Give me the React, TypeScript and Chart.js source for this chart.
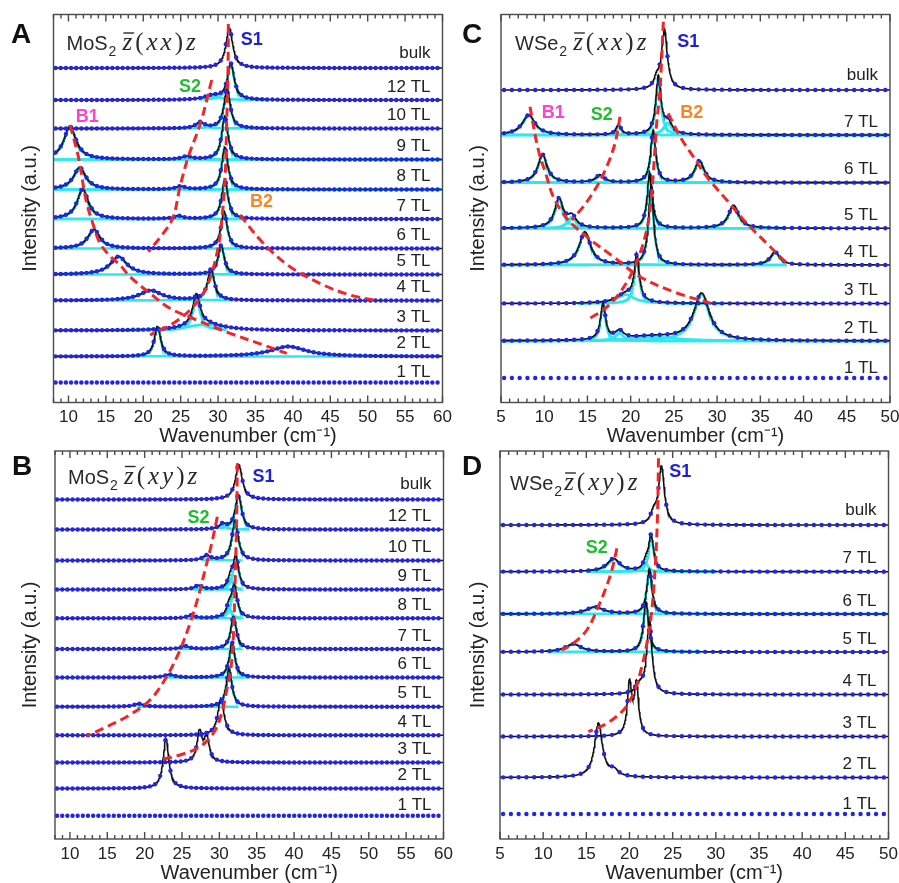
import React, { useEffect, useRef } from 'react';
import { Chart, registerables } from 'chart.js';
Chart.register(...registerables);

const FONT = "'Liberation Sans', Arial, Helvetica, sans-serif";
const SERIF = "'Liberation Serif', 'Times New Roman', serif";

// ================= Panel A : MoS2 z(xx)z =================
const A_layers = ['bulk', '12 TL', '10 TL', '9 TL', '8 TL', '7 TL', '6 TL', '5 TL', '4 TL', '3 TL', '2 TL', '1 TL'];
const A_offsets = [334.5, 302.5, 274, 243, 213, 183.5, 154, 128, 102, 72, 46, 20];
// each peak: [centre (cm-1), height (a.u.), FWHM (cm-1)]
const A_peaks: number[][][] = [
  [[31.5, 40, 1.1]],
  [[31.7, 36, 1.1], [29.2, 4, 2.5]],
  [[31.2, 40, 1.0], [27.6, 6, 1.4]],
  [[10.2, 33, 2.0], [30.9, 43, 1.0], [25.8, 3, 1.5]],
  [[11.5, 22, 2.0], [30.9, 42, 1.0], [25.0, 3, 1.5]],
  [[11.9, 30, 1.8], [30.9, 39, 1.0], [24.7, 3, 1.5]],
  [[13.4, 19, 2.0], [30.8, 37, 1.0]],
  [[16.7, 18, 2.7], [30.4, 29, 1.0]],
  [[21.0, 10, 3.6], [29.05, 31, 1.1]],
  [[27.1, 32, 1.2], [28.3, 6, 6.0]],
  [[21.9, 30, 1.0], [39.4, 10, 5.8]],
  [],
];
const A_compRange: (number[] | null)[] = [null, [27.5, 36.5], [8, 36.5], [8, 60], [8, 60], [8, 33.5], [8, 33.5], [8, 33.5], [8, 32], [8, 31], [8, 60], null];
const A_ticks = [10, 15, 20, 25, 30, 35, 40, 45, 50, 55, 60];
const A_guideS1 = [[31.37, 378.5], [31.33, 334.5], [31.13, 274.5], [30.93, 222.5], [30.49, 182.5], [30.03, 155.8], [29.15, 129.2], [28.03, 109.2], [26.25, 92.5], [24.02, 79.2], [20.9, 67.5]];
const A_guideS2 = [[29.15, 322.5], [27.65, 279.2], [26.02, 245.8], [24.91, 215.8], [24.02, 185.8], [22.68, 169.2], [20.67, 150.8]];
const A_guideB1 = [[10.21, 277.5], [11.32, 245.8], [12.34, 202.5], [13.32, 177.5], [14.22, 159.2], [15.55, 146.5], [16.89, 137.5], [18.23, 125.8], [20.9, 109.2], [23.57, 94.2], [27.14, 82.5], [31.6, 69.2], [36.05, 57.5], [39.18, 49.2]];
const A_guideB2 = [[32.93, 187.5], [36.05, 159.2], [39.62, 135.8], [44.07, 117.5], [47.64, 107.5], [51.21, 101.8]];
const A_modes: [string, number, number][] = [['S1', 34.5, 362.5], ['S2', 26.25, 315.2], ['B1', 12.5, 285.8], ['B2', 35.8, 200.8]];

// ================= Panel B : MoS2 z(xy)z =================
const B_layers = ['bulk', '12 TL', '10 TL', '9 TL', '8 TL', '7 TL', '6 TL', '5 TL', '4 TL', '3 TL', '2 TL', '1 TL'];
const B_offsets = [339.5, 309.5, 278.5, 249.5, 220.7, 190, 161.5, 132.3, 103.7, 76.5, 50.5, 23.3];
const B_peaks: number[][][] = [
  [[32.6, 35, 1.1]],
  [[32.55, 35, 1.0], [30.45, 5, 1.0]],
  [[32.1, 40, 1.0], [28.3, 5, 1.2]],
  [[32.2, 32, 0.9], [31.5, 10, 0.8], [27.2, 4, 1.2]],
  [[32.0, 32, 0.9], [31.3, 10, 0.8], [26.2, 3, 1.2]],
  [[31.9, 33, 0.9], [25.4, 3, 1.2]],
  [[31.7, 35, 0.9], [23.3, 3, 1.5]],
  [[31.3, 38, 0.9], [19.2, 3, 1.5]],
  [[30.2, 37, 1.0]],
  [[27.35, 30, 0.8], [28.3, 25, 0.8]],
  [[22.85, 50, 0.9]],
  [],
];
const B_compRange: (number[] | null)[] = [null, [30, 34], [27.5, 33], [26.5, 33], [25.5, 33], [24.3, 33], [22.5, 34], [19, 32.5], null, null, null, null];
const B_ticks = [10, 15, 20, 25, 30, 35, 40, 45, 50, 55, 60];
const B_guideS1 = [[32.4, 375.7], [32.32, 322.3], [32.1, 255.7], [31.87, 202.3], [31.52, 169], [30.99, 149], [30.32, 125.7], [29.19, 105.7], [27.41, 92.3], [24.73, 84], [21.83, 79]];
const B_guideS2 = [[29.73, 322.3], [28.98, 295.7], [28.08, 269], [27.18, 242.3], [26.07, 215.7], [24.73, 189], [22.95, 162.3], [20.72, 139], [17.6, 122.3], [14.47, 110.7], [12.24, 103]];
const B_modes: [string, number, number][] = [['S1', 35.9, 362.3], ['S2', 27.2, 320.7]];

// ================= Panel C : WSe2 z(xx)z =================
const C_layers = ['bulk', '7 TL', '6 TL', '5 TL', '4 TL', '3 TL', '2 TL', '1 TL'];
const C_offsets = [312.5, 267.5, 219.8, 174.2, 137.5, 99, 61.5, 24.5];
const C_peaks: number[][][] = [
  [[23.9, 60, 0.8], [23.0, 9, 0.7]],
  [[8.2, 20, 1.8], [18.6, 10, 0.7], [23.2, 57, 0.7], [24.3, 12, 1.2]],
  [[9.8, 28, 1.3], [16.45, 7.5, 1.2], [22.6, 52, 0.7], [27.95, 22, 1.3]],
  [[11.7, 29, 1.2], [13.2, 11, 1.2], [22.2, 55, 0.7], [31.9, 23, 1.4]],
  [[14.7, 33, 1.6], [22.35, 80, 0.7], [36.7, 13, 1.3]],
  [[20.7, 45, 0.7], [19.4, 9, 2.5]],
  [[16.8, 36, 0.7], [18.7, 8, 1.2], [22.5, 4, 7], [28.2, 47, 2.2]],
  [],
];
const C_compRange: (number[] | null)[] = [null, [5, 50], [5, 50], [5, 37.6], [5, 38], [13.8, 30.7], [5, 50], null];
const C_ticks = [5, 10, 15, 20, 25, 30, 35, 40, 45, 50];
const C_guideS1 = [[23.78, 380.8], [23.39, 312.5], [23.01, 279.2], [22.62, 229.2], [22.24, 192.5], [21.86, 172.5], [21.08, 149.2], [19.92, 125.8], [18.38, 105.8], [16.83, 92.5], [14.91, 82.5]];
const C_guideB1 = [[8.35, 295.8], [9.32, 252.5], [10.29, 225.8], [11.05, 205.8], [12.6, 184.2], [14.91, 165.8], [17.99, 145.8], [21.08, 125.8], [24.93, 110.8], [29.95, 97.5]];
const C_guideS2 = [[18.77, 285.8], [18.19, 259.2], [17.23, 235.8], [16.07, 215.8], [14.52, 195.8], [13.18, 182.5]];
const C_guideB2 = [[24.35, 289.2], [25.71, 265.8], [27.25, 245.8], [28.8, 225.8], [31.11, 202.5], [33.42, 179.2], [35.74, 159.2], [38.05, 139.2]];
const C_modes: [string, number, number][] = [['S1', 26.67, 360.8], ['B1', 11.05, 289.2], ['S2', 16.65, 287.5], ['B2', 27.06, 289.2]];

// ================= Panel D : WSe2 z(xy)z =================
const D_layers = ['bulk', '7 TL', '6 TL', '5 TL', '4 TL', '3 TL', '2 TL', '1 TL'];
const D_offsets = [314, 267.3, 225, 187, 144.5, 102.5, 61.5, 25];
const D_peaks: number[][][] = [
  [[23.7, 58, 0.8], [22.8, 10, 0.8]],
  [[18.15, 13, 1.8], [21.9, 8, 0.7], [22.5, 35, 0.7]],
  [[16.0, 7, 2.4], [22.3, 45, 0.7]],
  [[13.5, 8, 2.2], [21.9, 50, 0.7]],
  [[21.2, 8, 1.0], [22.3, 75, 0.7]],
  [[20.0, 52, 0.6], [20.8, 50, 0.6]],
  [[16.4, 54, 1.1], [18.2, 6, 1.2]],
  [],
];
const D_compRange: (number[] | null)[] = [null, [15, 30], [5, 50], [10.4, 28.2], null, null, null, null];
const D_ticks = [5, 10, 15, 20, 25, 30, 35, 40, 45, 50];
const D_guideS1 = [[23.36, 380.7], [23.24, 322.3], [22.98, 272.3], [22.59, 229], [22.08, 199], [21.43, 172.3], [20.46, 145.7], [19.3, 129], [17.38, 115.7], [15.24, 107.3]];
const D_guideS2 = [[18.54, 290.7], [17.96, 269], [17.18, 249], [16.22, 229], [15.06, 209], [13.5, 195.7], [12.16, 189]];
const D_modes: [string, number, number][] = [['S1', 25.88, 367.3], ['S2', 16.2, 290.7]];

// ================= styling / layout =================
const MODE_COLORS: Record<string, string> = { S1: '#1f1fdc', S2: '#1fbe2c', B1: '#ff40d0', B2: '#ff8420' };
const CYAN = '#2ee8f0';
const DOT = '#2424e6';
const RED = '#f52525';
const FINE = 0.05;

interface Panel {
  key: string; letter: string; compound: string; pol: string;
  xMin: number; xMax: number; ticks: number[];
  layers: string[]; offsets: number[]; peaks: number[][][]; compRange: (number[] | null)[];
  guides: number[][][]; modes: [string, number, number][]; dotStep: number;
  box: { left: number; top: number; width: number; height: number };
  area: { l: number; t: number; r: number; b: number };
  padLeft: number;
  title: { x: number; y: number; gap: number };
  letterPos: { x: number; y: number };
}

const PANELS: Panel[] = [
  {
    key: 'A', letter: 'A', compound: 'MoS', pol: 'xx', xMin: 8, xMax: 60, ticks: A_ticks,
    layers: A_layers, offsets: A_offsets, peaks: A_peaks, compRange: A_compRange,
    guides: [A_guideS1, A_guideS2, A_guideB1, A_guideB2], modes: A_modes, dotStep: 0.69,
    box: { left: 0, top: 0, width: 458, height: 448 }, area: { l: 53.5, t: 14.5, r: 442.5, b: 402.5 }, padLeft: 14,
    title: { x: 66.5, y: 50, gap: 6 }, letterPos: { x: 11, y: 43 },
  },
  {
    key: 'C', letter: 'C', compound: 'WSe', pol: 'xx', xMin: 5, xMax: 50, ticks: C_ticks,
    layers: C_layers, offsets: C_offsets, peaks: C_peaks, compRange: C_compRange,
    guides: [C_guideS1, C_guideB1, C_guideS2, C_guideB2], modes: C_modes, dotStep: 0.9,
    box: { left: 450, top: 0, width: 449, height: 448 }, area: { l: 501, t: 14.5, r: 890, b: 402.5 }, padLeft: 12,
    title: { x: 515, y: 50, gap: 6 }, letterPos: { x: 462, y: 43 },
  },
  {
    key: 'B', letter: 'B', compound: 'MoS', pol: 'xy', xMin: 8, xMax: 60, ticks: B_ticks,
    layers: B_layers, offsets: B_offsets, peaks: B_peaks, compRange: B_compRange,
    guides: [B_guideS1, B_guideS2], modes: B_modes, dotStep: 0.69,
    box: { left: 0, top: 440, width: 458, height: 445 }, area: { l: 55, t: 451, r: 443.5, b: 839 }, padLeft: 14,
    title: { x: 68, y: 483.5, gap: 6 }, letterPos: { x: 12, y: 475 },
  },
  {
    key: 'D', letter: 'D', compound: 'WSe', pol: 'xy', xMin: 5, xMax: 50, ticks: D_ticks,
    layers: D_layers, offsets: D_offsets, peaks: D_peaks, compRange: D_compRange,
    guides: [D_guideS1, D_guideS2], modes: D_modes, dotStep: 0.9,
    box: { left: 450, top: 440, width: 449, height: 445 }, area: { l: 500, t: 451, r: 888.5, b: 839 }, padLeft: 12,
    title: { x: 510, y: 490, gap: 2 }, letterPos: { x: 462, y: 475 },
  },
];

const lor = (x: number, c: number, h: number, f: number) => h / (1 + Math.pow((x - c) / (f / 2), 2));

function drawFormula(ctx: CanvasRenderingContext2D, x: number, y: number, compound: string, pol: string, gap: number) {
  ctx.textAlign = 'left';
  ctx.textBaseline = 'alphabetic';
  ctx.fillStyle = '#2a2a2a';
  ctx.font = `20px ${FONT}`;
  ctx.fillText(compound, x, y);
  let cx = x + ctx.measureText(compound).width + 1;
  ctx.font = `14px ${FONT}`;
  ctx.fillText('2', cx, y + 6);
  cx += ctx.measureText('2').width + gap;
  const parts: [string, boolean][] = [['z', true], ['(', false], [pol[0], true], [pol[1], true], [')', false], ['z', true]];
  parts.forEach(([ch, it], k) => {
    ctx.font = `${it ? 'italic ' : ''}25px ${SERIF}`;
    const w = ctx.measureText(ch).width;
    ctx.fillText(ch, cx, y);
    if (k === 0) {
      ctx.save();
      ctx.strokeStyle = '#2a2a2a';
      ctx.lineWidth = 1.4;
      ctx.beginPath();
      ctx.moveTo(cx + 1, y - 17);
      ctx.lineTo(cx + w + 2, y - 17);
      ctx.stroke();
      ctx.restore();
    }
    cx += w + 3;
  });
}

function buildConfig(p: Panel): any {
  const datasets: any[] = [];
  p.layers.forEach((_, i) => {
    const off = p.offsets[i];
    const comps = p.peaks[i];
    const fitAt = (x: number) => off + comps.reduce((s, c) => s + lor(x, c[0], c[1], c[2]), 0);
    const rng = p.compRange[i];
    if (rng) {
      comps.forEach((c) => {
        const pts: { x: number; y: number }[] = [];
        const n = Math.round((rng[1] - rng[0]) / FINE);
        for (let k = 0; k <= n; k++) {
          const x = rng[0] + k * FINE;
          pts.push({ x, y: off + lor(x, c[0], c[1], c[2]) });
        }
        datasets.push({ data: pts, borderColor: CYAN, borderWidth: 2.6, pointRadius: 0, tension: 0, order: 3 });
      });
    }
    if (comps.length) {
      const pts: { x: number; y: number }[] = [];
      const n = Math.round((p.xMax - p.xMin) / FINE);
      for (let k = 0; k <= n; k++) {
        const x = p.xMin + k * FINE;
        pts.push({ x, y: fitAt(x) });
      }
      datasets.push({ data: pts, borderColor: '#111111', borderWidth: 1.6, pointRadius: 0, tension: 0, order: 2 });
    }
    const dots: { x: number; y: number }[] = [];
    for (let k = 0; ; k++) {
      const x = p.xMin + p.dotStep * 0.4 + k * p.dotStep;
      if (x > p.xMax) break;
      dots.push({ x, y: fitAt(x) });
    }
    datasets.push({ data: dots, showLine: false, pointRadius: 2.2, pointBackgroundColor: DOT, pointBorderWidth: 0, order: 1 });
  });
  p.guides.forEach((g) => {
    datasets.push({
      data: g.map(([x, y]) => ({ x, y })), borderColor: RED, borderWidth: 3, borderDash: [9, 5],
      pointRadius: 0, tension: 0.35, order: 0,
    });
  });

  const yW = p.area.l - p.box.left - p.padLeft;
  const xH = p.box.top + p.box.height - p.area.b;

  const framePlugin = {
    id: 'frame' + p.key,
    afterDatasetsDraw(chart: any) {
      const { ctx, chartArea: a, scales } = chart;
      const x = scales.x;
      ctx.save();
      ctx.strokeStyle = '#4a4a4a';
      ctx.lineWidth = 1.4;
      ctx.strokeRect(a.left, a.top, a.right - a.left, a.bottom - a.top);
      ctx.beginPath();
      for (let v = Math.ceil(x.min); v <= x.max; v++) {
        const px = x.getPixelForValue(v);
        const len = v % 5 === 0 ? 7 : 4;
        ctx.moveTo(px, a.top);
        ctx.lineTo(px, a.top + len);
        ctx.moveTo(px, a.bottom);
        ctx.lineTo(px, a.bottom - len);
      }
      ctx.stroke();
      ctx.restore();
    },
  };

  const textPlugin = {
    id: 'text' + p.key,
    afterDraw(chart: any) {
      const { ctx, chartArea: a, scales } = chart;
      const x = scales.x, y = scales.y;
      const ox = p.box.left, oy = p.box.top;
      ctx.save();
      // layer labels
      ctx.font = `17px ${FONT}`;
      ctx.fillStyle = '#222';
      ctx.textAlign = 'right';
      ctx.textBaseline = 'middle';
      const last = p.layers.length - 1;
      p.layers.forEach((name, i) => {
        const dy = i === 0 ? -15 : i === last ? -10 : -13;
        ctx.fillText(name, a.right - 12, y.getPixelForValue(p.offsets[i]) + dy);
      });
      // mode labels
      ctx.font = `bold 18px ${FONT}`;
      ctx.textAlign = 'center';
      p.modes.forEach(([t, mx, my]) => {
        ctx.fillStyle = MODE_COLORS[t];
        ctx.fillText(t, x.getPixelForValue(mx), y.getPixelForValue(my));
      });
      // formula title
      drawFormula(ctx, p.title.x - ox, p.title.y - oy, p.compound, p.pol, p.title.gap);
      // panel letter
      ctx.font = `bold 28px ${FONT}`;
      ctx.fillStyle = '#111';
      ctx.textAlign = 'left';
      ctx.textBaseline = 'alphabetic';
      ctx.fillText(p.letter, p.letterPos.x - ox, p.letterPos.y - oy);
      ctx.restore();
    },
  };

  return {
    type: 'line',
    data: { datasets },
    options: {
      animation: false,
      responsive: false,
      maintainAspectRatio: false,
      events: [],
      layout: {
        padding: {
          left: p.padLeft,
          top: p.area.t - p.box.top,
          right: p.box.left + p.box.width - p.area.r,
          bottom: 0,
        },
      },
      plugins: { legend: { display: false }, tooltip: { enabled: false } },
      scales: {
        x: {
          type: 'linear', min: p.xMin, max: p.xMax,
          grid: { display: false, drawTicks: false },
          border: { display: false },
          ticks: { font: { family: FONT, size: 17 }, color: '#222', padding: 5, maxRotation: 0, autoSkip: false },
          afterBuildTicks: (scale: any) => { scale.ticks = p.ticks.map((v) => ({ value: v })); },
          title: { display: true, text: 'Wavenumber (cm\u207B\u00B9)', font: { family: FONT, size: 20 }, color: '#222', padding: { top: 4, bottom: 0 } },
          afterFit: (scale: any) => { scale.height = xH; scale.paddingLeft = 0; scale.paddingRight = 0; },
        },
        y: {
          type: 'linear', min: 0, max: 388,
          grid: { display: false, drawTicks: false },
          border: { display: false },
          ticks: { display: false },
          title: { display: true, text: 'Intensity (a.u.)', font: { family: FONT, size: 20 }, color: '#222', padding: { top: 4, bottom: 0 } },
          afterFit: (scale: any) => { scale.width = yW; scale.paddingTop = 0; scale.paddingBottom = 0; },
        },
      },
    },
    plugins: [framePlugin, textPlugin],
  };
}

function PanelChart({ p }: { p: Panel }) {
  const ref = useRef<HTMLCanvasElement>(null);
  useEffect(() => {
    if (!ref.current) return;
    const chart = new Chart(ref.current, buildConfig(p));
    return () => chart.destroy();
  }, [p]);
  return (
    <canvas
      ref={ref}
      width={p.box.width}
      height={p.box.height}
      style={{ position: 'absolute', left: p.box.left, top: p.box.top, width: p.box.width, height: p.box.height }}
    />
  );
}

export default function App() {
  return (
    <div style={{ position: 'absolute', left: 0, top: 0, width: 899, height: 883, overflow: 'hidden', background: '#ffffff' }}>
      {PANELS.map((p) => (
        <PanelChart key={p.key} p={p} />
      ))}
    </div>
  );
}
